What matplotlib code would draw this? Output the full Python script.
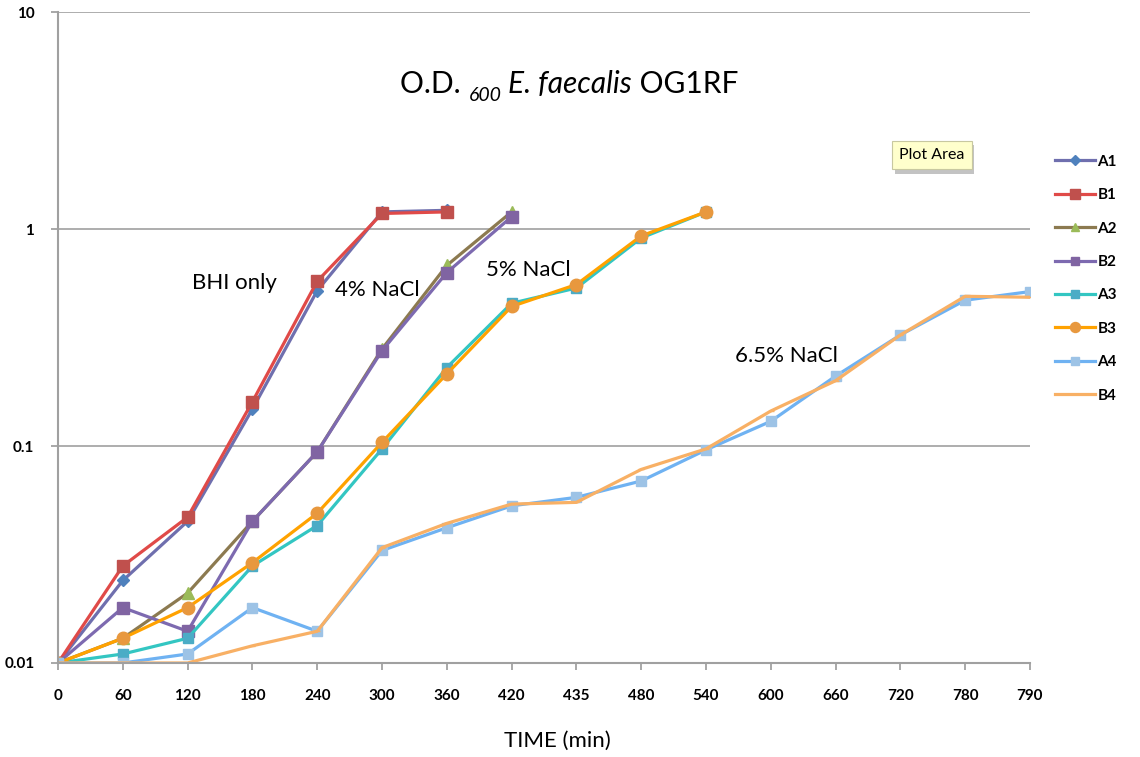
import numpy as np
import matplotlib.pyplot as plt
import matplotlib.patheffects as pe

# --- données (O.D. 600) ---
time_labels = ['0', '60', '120', '180', '240', '300', '360', '420', '435',
               '480', '540', '600', '660', '720', '780', '790']

A1 = [0.01, 0.024, 0.045, 0.148, 0.52, 1.2, 1.22]
B1 = [0.01, 0.028, 0.047, 0.16, 0.575, 1.18, 1.2]
A2 = [0.01, 0.013, 0.021, 0.045, 0.094, 0.28, 0.68, 1.2]
B2 = [0.01, 0.018, 0.014, 0.045, 0.094, 0.275, 0.63, 1.14]
A3 = [0.01, 0.011, 0.013, 0.028, 0.043, 0.097, 0.23, 0.455, 0.535, 0.91, 1.2]
B3 = [0.01, 0.013, 0.018, 0.029, 0.049, 0.104, 0.215, 0.44, 0.555, 0.93, 1.2]
A4 = [0.01, 0.01, 0.011, 0.018, 0.014, 0.033, 0.042, 0.053, 0.058, 0.069,
      0.096, 0.13, 0.21, 0.325, 0.47, 0.515]
B4 = [0.01, 0.01, 0.01, 0.012, 0.014, 0.034, 0.044, 0.054, 0.055, 0.078,
      0.097, 0.145, 0.2, 0.325, 0.49, 0.485]

series = [
    ('A1', A1, '#6f6fae', 'D', '#4f81bd', 6),
    ('B1', B1, '#e04a48', 's', '#c0504d', 9),
    ('A2', A2, '#8c7a50', '^', '#9bbb59', 8),
    ('B2', B2, '#7d6ab0', 's', '#8064a2', 8),
    ('A3', A3, '#33c6c2', 's', '#4bacc6', 7),
    ('B3', B3, '#ffa200', 'o', '#e8983e', 9),
    ('A4', A4, '#6fb2f2', 's', '#9dc3e6', 7),
    ('B4', B4, '#f8b065', '_', '#f8b065', 4),
]

plt.rcParams['font.family'] = ['Lato', 'DejaVu Sans']

fig = plt.figure(figsize=(11.4, 7.57), dpi=100)
ax = fig.add_axes([0.0509, 0.1242, 0.8526, 0.8598])

for name, vals, lc, mk, mc, ms in series:
    x = np.arange(len(vals))
    ax.plot(x, vals, color=lc, linewidth=2.3, marker=mk, markersize=ms,
            markerfacecolor=mc, markeredgecolor=mc, label=name)

ax.set_yscale('log')
ax.set_ylim(0.01, 10)
ax.set_xlim(0, len(time_labels) - 1)
ax.set_xticks(np.arange(len(time_labels)))
ax.set_xticklabels(time_labels)
ax.set_yticks([0.01, 0.1, 1, 10])
ax.set_yticklabels(['0.01', '0.1', '1', '10'])
ax.yaxis.set_minor_locator(plt.NullLocator())
ax.tick_params(axis='both', labelsize=11, colors='#999999', labelcolor='black',
               length=5, width=1.2)
ax.tick_params(axis='x', pad=14)
ax.tick_params(axis='y', pad=12)
for lab in ax.get_xticklabels() + ax.get_yticklabels():
    lab.set_fontweight('bold')

ax.grid(True, axis='y', color='#a0a0a0', linewidth=1.2)
ax.set_axisbelow(True)
for s in ['top', 'right']:
    ax.spines[s].set_visible(False)
for s in ['left', 'bottom']:
    ax.spines[s].set_color('#a0a0a0')
    ax.spines[s].set_linewidth(1.5)

ax.set_xlabel('TIME (min)', fontsize=16, labelpad=20, x=0.514)

# titre en morceaux (indice 600 en italique)
t1 = ax.text(0.352, 0.868, 'O.D. ', transform=ax.transAxes, fontsize=21.5,
             ha='left', va='bottom')
t2 = ax.annotate('600', xy=(1, 0), xycoords=t1, xytext=(0, -4),
                 textcoords='offset points', fontsize=14, fontstyle='italic',
                 ha='left', va='bottom')
t3 = ax.annotate(' E. faecalis', xy=(1, 0), xycoords=t2, xytext=(0, 4),
                 textcoords='offset points', fontsize=21.5, fontstyle='italic',
                 ha='left', va='bottom')
t4 = ax.annotate(' OG1RF', xy=(1, 0), xycoords=t3, fontsize=21.5,
                 ha='left', va='bottom')

ax.text(0.182, 0.584, 'BHI only', transform=ax.transAxes, fontsize=16,
        ha='center', va='center')
ax.text(0.328, 0.573, '4% NaCl', transform=ax.transAxes, fontsize=16,
        ha='center', va='center')
ax.text(0.4835, 0.604, '5% NaCl', transform=ax.transAxes, fontsize=16,
        ha='center', va='center')
ax.text(0.749, 0.472, '6.5% NaCl', transform=ax.transAxes, fontsize=16,
        ha='center', va='center')
ax.text(0.899, 0.780, 'Plot Area', transform=ax.transAxes, fontsize=11.5,
        ha='center', va='center',
        bbox=dict(boxstyle='square,pad=0.45', facecolor='#ffffcc',
                  edgecolor='#c8c8a0', linewidth=0.8,
                  path_effects=[pe.withSimplePatchShadow(offset=(2, -3),
                                                         shadow_rgbFace='#888888',
                                                         alpha=0.5)]))

leg = ax.legend(loc='upper left', bbox_to_anchor=(1.012, 0.802), frameon=False,
                fontsize=11, handlelength=2.6, labelspacing=1.27, handletextpad=0.15,
                markerscale=0.8)
for t in leg.get_texts():
    t.set_fontweight('bold')

plt.savefig('out.png', dpi=100)
